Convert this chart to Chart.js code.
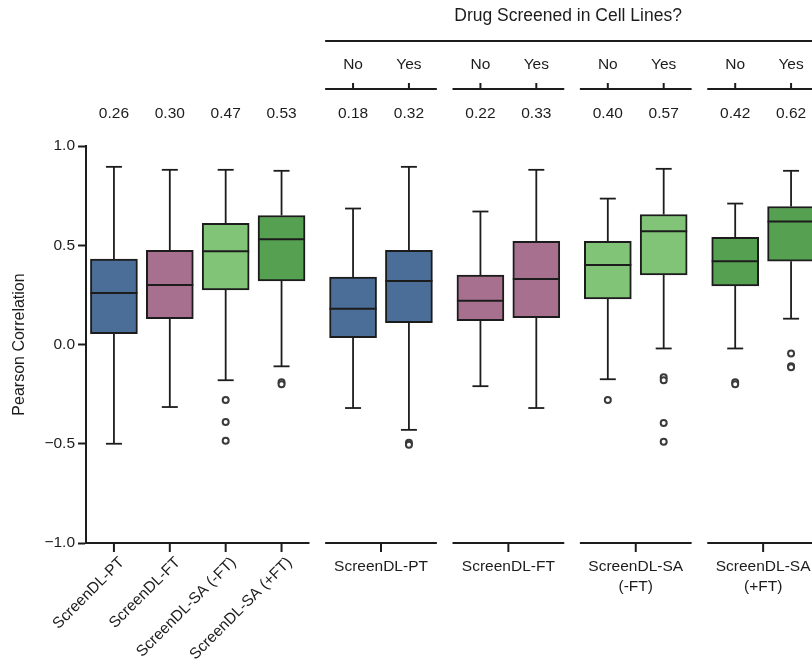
<!DOCTYPE html>
<html>
<head>
<meta charset="utf-8">
<script src="https://cdn.jsdelivr.net/npm/chart.js@4.4.1/dist/chart.umd.min.js"></script>
<style>
  html, body { margin: 0; padding: 0; background: #fff; overflow: hidden; }
  #wrap { width: 830px; height: 664px; }
</style>
</head>
<body>
<div id="wrap"><canvas id="chart" width="830" height="664"></canvas></div>
<script>
// Models, in drawing order. The first group shows all drugs per model,
// the other groups split each model by whether the drug was screened.
const modelNames = ["ScreenDL-PT", "ScreenDL-FT", "ScreenDL-SA (-FT)", "ScreenDL-SA (+FT)"];
const screenedLabels = ["No", "Yes"];
const groupSizes = [4, 2, 2, 2, 2];

// Box statistics (Pearson r), one entry per box
const whiskerLow  = [-0.50, -0.315, -0.18, -0.11, -0.32, -0.43, -0.21, -0.32, -0.175, -0.02, -0.02, 0.13];
const q1          = [0.055, 0.13, 0.275, 0.32, 0.035, 0.11, 0.12, 0.135, 0.23, 0.35, 0.295, 0.42];
const medians     = [0.26, 0.30, 0.47, 0.53, 0.18, 0.32, 0.22, 0.33, 0.40, 0.57, 0.42, 0.62];
const q3          = [0.43, 0.475, 0.61, 0.65, 0.34, 0.475, 0.35, 0.52, 0.52, 0.655, 0.54, 0.695];
const whiskerHigh = [0.895, 0.88, 0.88, 0.875, 0.685, 0.895, 0.67, 0.88, 0.735, 0.885, 0.71, 0.875];
const outliers = [
  [], [], [-0.28, -0.39, -0.485], [-0.19, -0.20],
  [], [-0.495, -0.505],
  [], [],
  [-0.28], [-0.165, -0.18, -0.395, -0.49],
  [-0.19, -0.20], [-0.045, -0.11, -0.115]
];
const boxModel = [0, 1, 2, 3, 0, 0, 1, 1, 2, 2, 3, 3];

const yTicks = [-1, -0.5, 0, 0.5, 1];

// styling
const INK = "#1c1c1c";
const FONT = '"Liberation Sans", Arial, Helvetica, sans-serif';
const modelColors = ["#4a6e97", "#a7708f", "#81c377", "#56a052"];
const GROUP_GAP = 0.28;

// x positions of boxes and extent of each group on the linear x scale
const positions = [];
const groupSpans = [];
{
  let start = -0.5;
  for (const n of groupSizes) {
    for (let i = 0; i < n; i++) positions.push(start + 0.5 + i);
    groupSpans.push({ from: start, to: start + n, center: start + n / 2, first: positions.length - n, count: n });
    start += n + GROUP_GAP;
  }
}
const xMax = groupSpans[groupSpans.length - 1].to;

const fmtTick = v => (v < 0 ? "\u2212" : "") + Math.abs(v).toFixed(1);

function text(ctx, str, x, y, size, align = "center") {
  ctx.font = `${size}px ${FONT}`;
  ctx.textAlign = align;
  ctx.textBaseline = "middle";
  ctx.fillText(str, x, y);
}

function hLine(ctx, x0, x1, y) {
  ctx.beginPath();
  ctx.moveTo(x0, y);
  ctx.lineTo(x1, y);
  ctx.stroke();
}

function vLine(ctx, x, y0, y1) {
  ctx.beginPath();
  ctx.moveTo(x, y0);
  ctx.lineTo(x, y1);
  ctx.stroke();
}

const boxPlotParts = {
  id: "boxPlotParts",
  beforeDatasetsDraw(chart) {
    const { ctx, scales: { x, y } } = chart;
    ctx.save();
    ctx.strokeStyle = INK;
    ctx.lineWidth = 1.8;
    positions.forEach((p, i) => {
      const px = x.getPixelForValue(p);
      const hi = y.getPixelForValue(whiskerHigh[i]);
      const lo = y.getPixelForValue(whiskerLow[i]);
      vLine(ctx, px, hi, y.getPixelForValue(q3[i]));
      vLine(ctx, px, y.getPixelForValue(q1[i]), lo);
      hLine(ctx, px - 8, px + 8, hi);
      hLine(ctx, px - 8, px + 8, lo);
    });
    ctx.restore();
  },
  afterDatasetsDraw(chart) {
    const { ctx, scales: { y } } = chart;
    const bars = chart.getDatasetMeta(0).data;
    ctx.save();
    ctx.strokeStyle = INK;
    ctx.lineWidth = 2;
    bars.forEach((bar, i) => {
      const my = y.getPixelForValue(medians[i]);
      hLine(ctx, bar.x - bar.width / 2, bar.x + bar.width / 2, my);
    });
    ctx.restore();
  },
  afterDraw(chart) {
    const { ctx, chartArea, scales: { x } } = chart;
    const px = v => x.getPixelForValue(v);
    ctx.save();
    ctx.fillStyle = INK;
    ctx.strokeStyle = INK;
    ctx.lineWidth = 2;

    // header over the screened / not screened groups
    const split = groupSpans.slice(1);
    const hx0 = px(split[0].from), hx1 = px(split[split.length - 1].to);
    text(ctx, "Drug Screened in Cell Lines?", (hx0 + hx1) / 2 - 4, 16, 17.5);
    hLine(ctx, hx0, hx1, 41);

    split.forEach(g => {
      hLine(ctx, px(g.from), px(g.to), 89);
      for (let k = 0; k < g.count; k++) {
        const bx = px(positions[g.first + k]);
        text(ctx, screenedLabels[k], bx, 65, 15.5);
        vLine(ctx, bx, 89, 83);
      }
    });

    // median values above every box
    positions.forEach((p, i) => text(ctx, medians[i].toFixed(2), px(p), 114, 15.5));

    // bottom axes, one per group
    const by = chartArea.bottom;
    groupSpans.forEach((g, gi) => {
      hLine(ctx, px(g.from) - (gi === 0 ? 1 : 0), px(g.to), by);
      if (gi === 0) {
        for (let k = 0; k < g.count; k++) {
          const bx = px(positions[g.first + k]);
          vLine(ctx, bx, by, by + 9);
          ctx.save();
          ctx.translate(bx + 8, by + 17);
          ctx.rotate(-Math.PI / 4);
          text(ctx, modelNames[k], 0, 0, 15.5, "right");
          ctx.restore();
        }
      } else {
        const cx = px(g.center);
        vLine(ctx, cx, by, by + 9);
        modelNames[gi - 1].split(" ").forEach((line, li) => text(ctx, line, cx, by + 24 + li * 20, 15.5));
      }
    });
    ctx.restore();
  }
};

const outlierPoints = [];
outliers.forEach((list, i) => list.forEach(v => outlierPoints.push({ x: positions[i], y: v })));

new Chart(document.getElementById("chart"), {
  type: "bar",
  data: {
    datasets: [
      {
        type: "bar",
        data: positions.map((p, i) => ({ x: p, y: [q1[i], q3[i]] })),
        backgroundColor: boxModel.map(m => modelColors[m]),
        borderColor: INK,
        borderWidth: 2,
        borderSkipped: false,
        barThickness: 47,
        order: 2
      },
      {
        type: "scatter",
        data: outlierPoints,
        pointRadius: 3,
        pointBorderWidth: 2,
        pointBorderColor: "#3a3a3a",
        pointBackgroundColor: "#ffffff",
        order: 1
      }
    ]
  },
  options: {
    responsive: false,
    animation: false,
    layout: { padding: { top: 146, bottom: 121, left: 0, right: 11 } },
    plugins: { legend: { display: false }, tooltip: { enabled: false } },
    scales: {
      x: { type: "linear", min: -0.5, max: xMax, offset: false, display: false },
      y: {
        min: -1,
        max: 1,
        afterBuildTicks: scale => { scale.ticks = yTicks.map(v => ({ value: v })); },
        afterFit: scale => { scale.width = 86; },
        ticks: { callback: fmtTick, color: INK, padding: 3, font: { family: FONT, size: 15.5 } },
        grid: { drawOnChartArea: false, tickLength: 8, tickWidth: 2, tickColor: INK },
        border: { width: 2, color: INK },
        title: {
          display: true,
          text: "Pearson Correlation",
          color: INK,
          font: { family: FONT, size: 16 },
          padding: { top: 10, bottom: 0 }
        }
      }
    }
  },
  plugins: [boxPlotParts]
});
</script>
</body>
</html>
